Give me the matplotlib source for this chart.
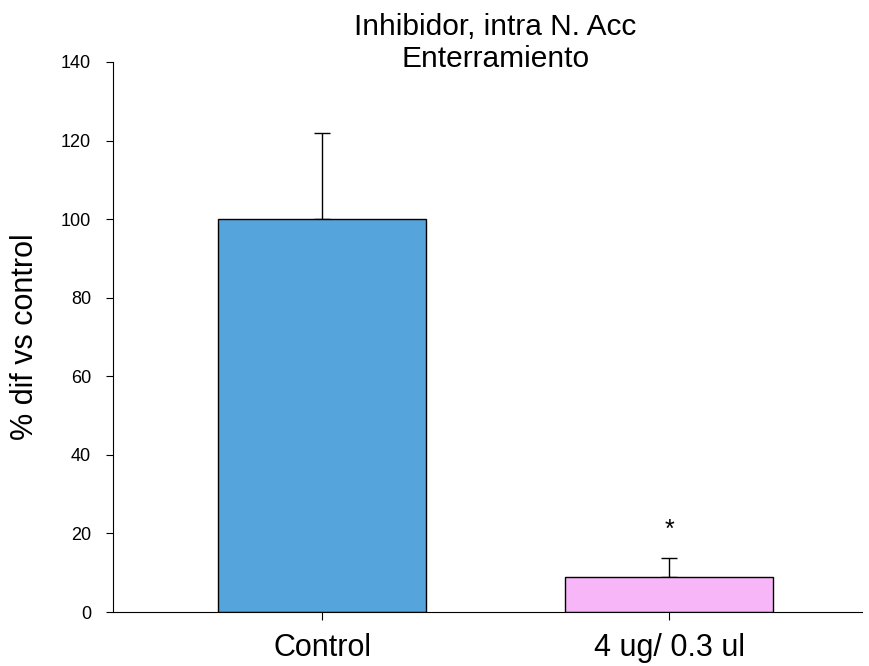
import matplotlib.pyplot as plt
import numpy as np

plt.rcParams['font.family'] = ['Liberation Sans', 'DejaVu Sans']

grupos = ["Control", "4 ug/ 0.3 ul"]
medias = [100.0, 8.9]
errores = [21.9, 4.8]
colores = ["#55a4dc", "#f7b6f7"]
yticks = [0, 20, 40, 60, 80, 100, 120, 140]

fig = plt.figure(figsize=(8.7, 6.66), dpi=100)
ax = fig.add_axes([0.130, 0.081, 0.861, 0.826])

x = np.arange(len(grupos))
ax.bar(x, medias, width=0.6, color=colores, edgecolor="black", linewidth=1.0, zorder=2)
ax.errorbar(x, medias, yerr=[np.zeros(len(errores)), errores], fmt="none",
            ecolor="black", elinewidth=1.0, capsize=5.8, capthick=1.0, zorder=1)

# significancia
ax.text(1, 19.1, "*", ha="center", va="baseline", fontsize=18)

ax.set_xlim(-0.602, 1.556)
ax.set_ylim(0, 140)
ax.set_xticks(x)
ax.set_xticklabels(grupos, fontsize=22)
ax.set_yticks(yticks)
ax.tick_params(axis="y", labelsize=13, length=5, pad=11, direction="out")
ax.tick_params(axis="x", length=6, direction="out", pad=9)
ax.spines["top"].set_visible(False)
ax.spines["right"].set_visible(False)
ax.set_ylabel("% dif vs control", fontsize=22)
ax.yaxis.set_label_coords(-0.098, 0.5)

fig.text(0.5695, 0.935, "Inhibidor, intra N. Acc\nEnterramiento", ha="center", va="center",
         fontsize=21.5, linespacing=1.2)

plt.savefig("out.png", dpi=100)
